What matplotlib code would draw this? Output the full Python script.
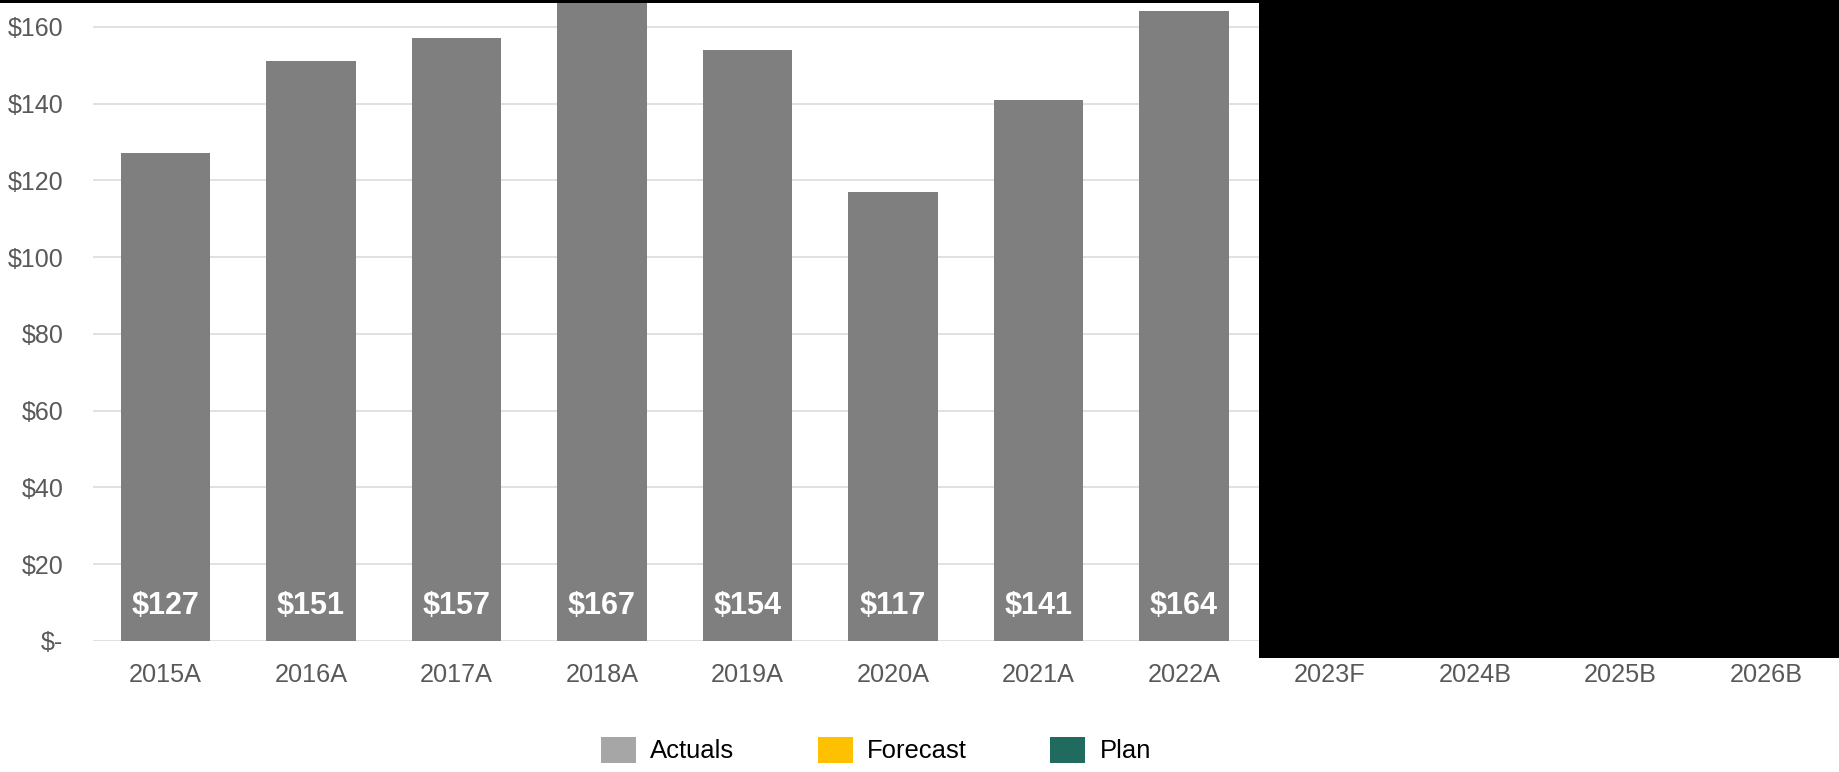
import matplotlib
matplotlib.use("Agg")
import matplotlib.pyplot as plt
from matplotlib import font_manager as fm
from matplotlib.patches import Patch, Rectangle

# ---- data ----
categories = ["2015A", "2016A", "2017A", "2018A", "2019A", "2020A",
              "2021A", "2022A", "2023F", "2024B", "2025B", "2026B"]
actual_values = [127, 151, 157, 167, 154, 117, 141, 164]
bar_labels = ["$127", "$151", "$157", "$167", "$154", "$117", "$141", "$164"]
y_ticks = [0, 20, 40, 60, 80, 100, 120, 140, 160]
y_tick_labels = ["$-", "$20", "$40", "$60", "$80", "$100", "$120", "$140", "$160"]
legend_labels = ["Actuals", "Forecast", "Plan"]
legend_colors = ["#A6A6A6", "#FFC000", "#216B5E"]

# ---- fonts ----
names = {f.name for f in fm.fontManager.ttflist}
if "Liberation Sans Narrow" in names:
    FONT, S = "Liberation Sans Narrow", 1.0
else:
    FONT, S = "Liberation Sans", 0.88
plt.rcParams["font.family"] = [FONT, "DejaVu Sans"]

W, H = 1839, 772
fig = plt.figure(figsize=(W / 100, H / 100), dpi=100)
ax_left, ax_right, ax_bottom, ax_top = 92.6, 1838.6, 641.0, 0.0
ax = fig.add_axes([ax_left / W, (H - ax_bottom) / H,
                   (ax_right - ax_left) / W, (ax_bottom - ax_top) / H])

x_all = list(range(len(categories)))
x_act = x_all[:len(actual_values)]
ax.bar(x_act, actual_values, width=0.615, color="#7F7F7F", zorder=3)

for xi, lab in zip(x_act, bar_labels):
    ax.annotate(lab, xy=(xi, 0), xytext=(0, 25), textcoords="offset points",
                ha="center", va="center", color="white", fontweight="bold",
                fontsize=25 * S, zorder=4)

ax.set_xlim(-0.5, len(categories) - 0.5)
ax.set_ylim(0, 166.96)
ax.set_xticks(x_all)
ax.set_xticklabels(categories)
ax.set_yticks(y_ticks)
ax.set_yticklabels(y_tick_labels)
ax.tick_params(axis="x", length=0, pad=16, labelsize=20.7 * S, labelcolor="#595959")
ax.tick_params(axis="y", length=0, pad=21, labelsize=20.5 * S, labelcolor="#595959")
ax.grid(axis="y", color="#D9D9D9", linewidth=1.1, zorder=0)
ax.set_axisbelow(True)
for sp in ax.spines.values():
    sp.set_visible(False)

# legend (handle sizes kept constant in pixels)
fs_leg = 21 * S
k = 21 / fs_leg
handles = [Patch(facecolor=c, edgecolor="none", label=l)
           for c, l in zip(legend_colors, legend_labels)]
fig.legend(handles=handles, loc="center", bbox_to_anchor=(876 / W, 22 / H),
           ncol=3, frameon=False, fontsize=fs_leg, handlelength=1.2 * k,
           handleheight=1.03 * k, handletextpad=0.5 * k,
           columnspacing=2.85 * k, borderpad=0, labelcolor="black")

# black redaction areas present in the reference image
fig.patches.append(Rectangle((1259 / W, (H - 657.7) / H), (W - 1259) / W, 657.7 / H,
                             transform=fig.transFigure, facecolor="black",
                             edgecolor="none", zorder=10))
fig.patches.append(Rectangle((0, (H - 2.7) / H), 1259 / W, 2.7 / H,
                             transform=fig.transFigure, facecolor="black",
                             edgecolor="none", zorder=10))

fig.savefig("out.png", dpi=100)
